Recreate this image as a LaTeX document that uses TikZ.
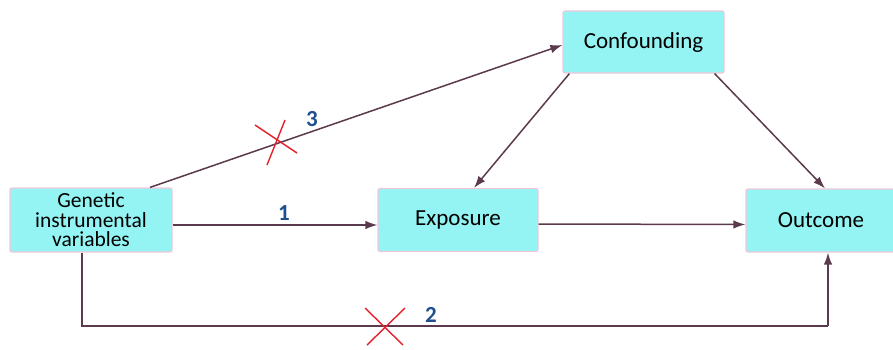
\documentclass[tikz,border=0pt]{standalone}
\usepackage{fontspec}
\setmainfont{Carlito}
\usetikzlibrary{arrows.meta}
\definecolor{boxfill}{HTML}{93F4F3}
\definecolor{boxline}{HTML}{F2C6DA}
\definecolor{arr}{HTML}{5A3A4C}
\definecolor{lbl}{HTML}{1F4F8E}
\definecolor{xred}{HTML}{E3202B}
\tikzset{
  box/.style={draw=boxline, line width=1.2pt, fill=boxfill, rounded corners=2pt,
    inner sep=0pt, align=center, font=\fontsize{23}{19}\selectfont},
  gbox/.style={box, font=\fontsize{21.5}{19.5}\selectfont},
  conn/.style={draw=arr, line width=1.5pt, -{Latex[length=12pt,width=8.5pt]}},
  plainline/.style={draw=arr, line width=1.5pt},
  num/.style={text=lbl, font=\fontsize{23}{23}\selectfont\bfseries},
  xmark/.style={draw=xred, line width=1.4pt}
}
\begin{document}
\begin{tikzpicture}[x=1pt,y=1pt]
\useasboundingbox (0,0) rectangle (893,349);
\node[gbox, minimum width=162pt, minimum height=64pt] (gen) at (91,129) {Genetic\\instrumental\\variables};
\node[box, minimum width=160pt, minimum height=63pt] (exp) at (458,129) {Exposure};
\node[box, minimum width=150pt, minimum height=63pt] (out) at (821,128.5) {Outcome};
\node[box, minimum width=161pt, minimum height=62pt] (conf) at (643.5,307) {Confounding};

\draw[conn] ([yshift=-5pt]gen.east) -- ([yshift=-5pt]exp.west);
\draw[conn] ([yshift=-4pt]exp.east) -- ([yshift=-4pt]out.west);
\draw[conn] ([xshift=59pt]gen.north) -- ([yshift=-3pt]conf.west);
\draw[conn] ([xshift=7pt]conf.south west) -- ([xshift=16pt]exp.north);
\draw[conn] ([xshift=-10pt]conf.south east) -- ([xshift=4pt]out.north);
\coordinate (c1) at ([xshift=-9pt]gen.south |- 0,23);
\coordinate (c2) at ([xshift=7pt]out.south |- 0,23);
\draw[plainline] ([xshift=-9pt]gen.south) -- (c1) -- (c2);
\draw[conn] (c2) -- ([xshift=7pt]out.south);

\node[num] (n1) at (284,136) {1};
\node[num] (n3) at (312,230) {3};
\node[num] (n2) at (431,34) {2};

\coordinate (x1a) at (255,224);
\coordinate (x1b) at (297,196);
\coordinate (x1c) at (285,229);
\coordinate (x1d) at (267,184);
\draw[xmark] (x1a) -- (x1b);
\draw[xmark] (x1c) -- (x1d);
\coordinate (x2a) at (365,41);
\coordinate (x2b) at (403,4);
\coordinate (x2c) at (405,41);
\coordinate (x2d) at (367,4);
\draw[xmark] (x2a) -- (x2b);
\draw[xmark] (x2c) -- (x2d);
\end{tikzpicture}
\end{document}
